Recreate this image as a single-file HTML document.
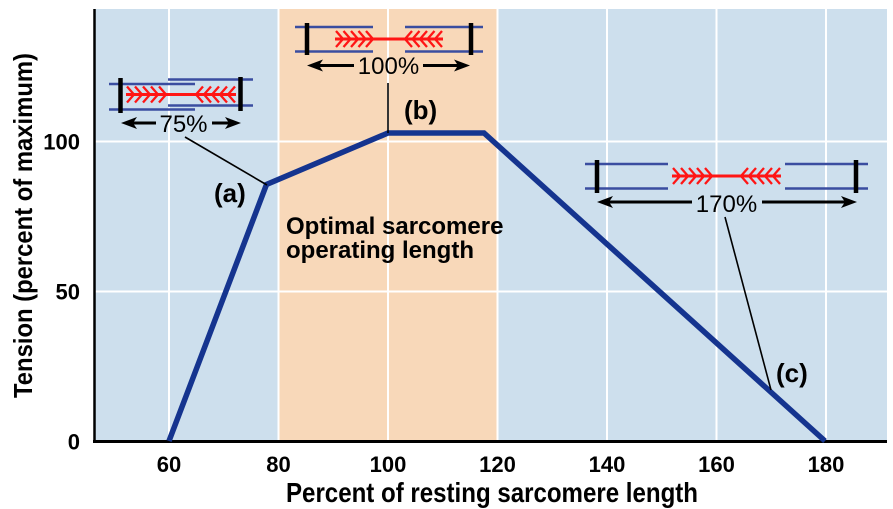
<!DOCTYPE html>
<html>
<head>
<meta charset="utf-8">
<style>
  html, body { margin: 0; padding: 0; background: #ffffff; }
  svg { display: block; }
  text { font-family: "Liberation Sans", Arial, sans-serif; fill: #000; }
</style>
</head>
<body>
<svg width="893" height="509" viewBox="0 0 893 509" xmlns="http://www.w3.org/2000/svg">
  <!-- plot background -->
  <rect x="94" y="9" width="793" height="433" fill="#cddfed"/>
  <rect x="279" y="9" width="218" height="433" fill="#f8d8b9"/>

  <!-- grid lines -->
  <g stroke="#ffffff" stroke-width="2">
    <line x1="169" y1="9" x2="169" y2="442"/>
    <line x1="278.5" y1="9" x2="278.5" y2="442"/>
    <line x1="388" y1="9" x2="388" y2="442"/>
    <line x1="497.5" y1="9" x2="497.5" y2="442"/>
    <line x1="607" y1="9" x2="607" y2="442"/>
    <line x1="716.5" y1="9" x2="716.5" y2="442"/>
    <line x1="826" y1="9" x2="826" y2="442"/>
    <line x1="94" y1="141.5" x2="887" y2="141.5"/>
    <line x1="94" y1="291.5" x2="887" y2="291.5"/>
  </g>

  <!-- axes -->
  <line x1="94.5" y1="9" x2="94.5" y2="443" stroke="#000" stroke-width="2.5"/>
  <line x1="93" y1="441.5" x2="887" y2="441.5" stroke="#000" stroke-width="3"/>

  <!-- y tick labels -->
  <g font-size="22" font-weight="bold" text-anchor="end">
    <text x="80" y="149.5">100</text>
    <text x="80" y="299.5">50</text>
    <text x="80" y="449.5">0</text>
  </g>

  <!-- x tick labels -->
  <g font-size="22" font-weight="bold" text-anchor="middle">
    <text x="169" y="472">60</text>
    <text x="278.5" y="472">80</text>
    <text x="388" y="472">100</text>
    <text x="497.5" y="472">120</text>
    <text x="607" y="472">140</text>
    <text x="716.5" y="472">160</text>
    <text x="826" y="472">180</text>
  </g>

  <!-- axis titles -->
  <text x="492" y="502" font-size="28" font-weight="bold" text-anchor="middle" textLength="412" lengthAdjust="spacingAndGlyphs">Percent of resting sarcomere length</text>
  <text transform="translate(32,225.5) rotate(-90)" font-size="26" font-weight="bold" text-anchor="middle" textLength="345" lengthAdjust="spacingAndGlyphs">Tension (percent of maximum)</text>

  <!-- curve -->
  <polyline points="169,441 266.5,184.5 388,133 484,133 825,441" fill="none" stroke="#15348f" stroke-width="5.5" stroke-linejoin="miter"/>

  <!-- leader lines -->
  <g stroke="#000" stroke-width="1.6">
    <line x1="185" y1="137" x2="267" y2="185"/>
    <line x1="388" y1="83" x2="388" y2="133"/>
    <line x1="725" y1="217" x2="771" y2="390"/>
  </g>

  <!-- labels -->
  <g font-size="26" font-weight="bold">
    <text x="214" y="202">(a)</text>
    <text x="404" y="119">(b)</text>
    <text x="776" y="382">(c)</text>
  </g>
  <g font-size="24" font-weight="bold">
    <text x="286" y="234">Optimal sarcomere</text>
    <text x="286" y="258">operating length</text>
  </g>

  <!-- ========== 100% sarcomere ========== -->
  <g>
    <g stroke="#3a4da0" stroke-width="2.5">
      <line x1="295" y1="27" x2="373" y2="27"/>
      <line x1="295" y1="51.5" x2="373" y2="51.5"/>
      <line x1="405" y1="27" x2="483" y2="27"/>
      <line x1="405" y1="51.5" x2="483" y2="51.5"/>
    </g>
    <line x1="335" y1="39" x2="443" y2="39" stroke="#ff1515" stroke-width="3"/>
    <path d="M336 31 L343 39 L336 47 M343.5 31 L350.5 39 L343.5 47 M351 31 L358 39 L351 47 M358.5 31 L365.5 39 L358.5 47 M366 31 L373 39 L366 47
             M412 31 L405 39 L412 47 M419.5 31 L412.5 39 L419.5 47 M427 31 L420 39 L427 47 M434.5 31 L427.5 39 L434.5 47 M442 31 L435 39 L442 47"
          fill="none" stroke="#ff1515" stroke-width="2.3"/>
    <g stroke="#000" stroke-width="4.5">
      <line x1="307" y1="23" x2="307" y2="55"/>
      <line x1="471" y1="23" x2="471" y2="55"/>
    </g>
    <!-- arrow -->
    <g stroke="#000" stroke-width="3">
      <line x1="318" y1="65.5" x2="354" y2="65.5"/>
      <line x1="423" y1="65.5" x2="460" y2="65.5"/>
    </g>
    <polygon points="307,65.5 323,59.5 319,65.5 323,71.5" fill="#000"/>
    <polygon points="470,65.5 454,59.5 458,65.5 454,71.5" fill="#000"/>
    <text x="388.5" y="74" font-size="24" text-anchor="middle">100%</text>
  </g>

  <!-- ========== 75% sarcomere ========== -->
  <g>
    <g stroke="#3a4da0" stroke-width="2.5">
      <line x1="109" y1="84" x2="195" y2="84"/>
      <line x1="109" y1="109.5" x2="195" y2="109.5"/>
      <line x1="168" y1="79.5" x2="253" y2="79.5"/>
      <line x1="168" y1="105.5" x2="253" y2="105.5"/>
    </g>
    <line x1="126" y1="94.5" x2="236" y2="94.5" stroke="#ff1515" stroke-width="3"/>
    <path d="M127 86.5 L134 94.5 L127 102.5 M135 86.5 L142 94.5 L135 102.5 M143 86.5 L150 94.5 L143 102.5 M151 86.5 L158 94.5 L151 102.5 M159 86.5 L166 94.5 L159 102.5
             M203 86.5 L196 94.5 L203 102.5 M211 86.5 L204 94.5 L211 102.5 M219 86.5 L212 94.5 L219 102.5 M227 86.5 L220 94.5 L227 102.5 M235 86.5 L228 94.5 L235 102.5"
          fill="none" stroke="#ff1515" stroke-width="2.3"/>
    <g stroke="#000" stroke-width="4.5">
      <line x1="120.5" y1="78" x2="120.5" y2="113"/>
      <line x1="240.5" y1="77" x2="240.5" y2="111"/>
    </g>
    <g stroke="#000" stroke-width="3">
      <line x1="132" y1="123" x2="156" y2="123"/>
      <line x1="212" y1="123" x2="230" y2="123"/>
    </g>
    <polygon points="121,123 137,117 133,123 137,129" fill="#000"/>
    <polygon points="241,123 225,117 229,123 225,129" fill="#000"/>
    <text x="183.5" y="132" font-size="24" text-anchor="middle">75%</text>
  </g>

  <!-- ========== 170% sarcomere ========== -->
  <g>
    <g stroke="#3a4da0" stroke-width="2.5">
      <line x1="585" y1="164" x2="668" y2="164"/>
      <line x1="585" y1="188.5" x2="668" y2="188.5"/>
      <line x1="785" y1="164" x2="868" y2="164"/>
      <line x1="785" y1="188.5" x2="868" y2="188.5"/>
    </g>
    <line x1="672" y1="176" x2="781" y2="176" stroke="#ff1515" stroke-width="3"/>
    <path d="M673 168 L680 176 L673 184 M681 168 L688 176 L681 184 M689 168 L696 176 L689 184 M697 168 L704 176 L697 184 M705 168 L712 176 L705 184
             M748 168 L741 176 L748 184 M756 168 L749 176 L756 184 M764 168 L757 176 L764 184 M772 168 L765 176 L772 184 M780 168 L773 176 L780 184"
          fill="none" stroke="#ff1515" stroke-width="2.3"/>
    <g stroke="#000" stroke-width="4.5">
      <line x1="597" y1="160" x2="597" y2="193"/>
      <line x1="856" y1="160" x2="856" y2="193"/>
    </g>
    <g stroke="#000" stroke-width="3">
      <line x1="608" y1="202" x2="692" y2="202"/>
      <line x1="762" y1="202" x2="846" y2="202"/>
    </g>
    <polygon points="597,202 613,196 609,202 613,208" fill="#000"/>
    <polygon points="857,202 841,196 845,202 841,208" fill="#000"/>
    <text x="726.5" y="212" font-size="24" text-anchor="middle">170%</text>
  </g>
</svg>
</body>
</html>
